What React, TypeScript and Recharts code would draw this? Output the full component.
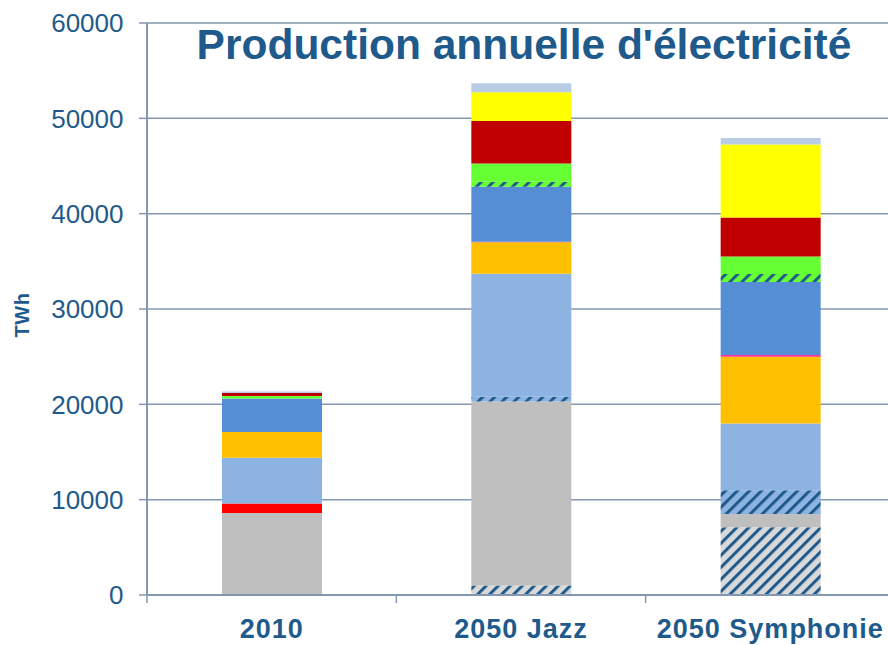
import React from "react";
import { BarChart, Bar, XAxis, YAxis, CartesianGrid } from "recharts";

// valeurs (TWh) pour [2010, 2050 Jazz, 2050 Symphonie]
const scenarios = ["2010", "2050 Jazz", "2050 Symphonie"];
const yTicks = [0, 10000, 20000, 30000, 40000, 50000, 60000];

const charbonCSC = [0, 1000, 7100];
const charbon = [8600, 19300, 1400];
const petrole = [1000, 0, 0];
const gazCSC = [0, 500, 2500];
const gaz = [4800, 12900, 7000];
const nucleaire = [2700, 3300, 7000];
const geothermie = [0, 60, 170];
const hydraulique = [3500, 5770, 7650];
const biomasseCSC = [0, 520, 840];
const biomasse = [280, 1900, 1850];
const eolien = [300, 4480, 4090];
const solaire = [0, 3000, 7650];
const autres = [170, 940, 700];

const series = [
  { key: "charbonCSC", name: "Charbon CSC", values: charbonCSC, fill: "url(#hatchGris)" },
  { key: "charbon", name: "Charbon", values: charbon, fill: "#BFBFBF" },
  { key: "petrole", name: "Pétrole", values: petrole, fill: "#FF0000" },
  { key: "gazCSC", name: "Gaz CSC", values: gazCSC, fill: "url(#hatchBleu)" },
  { key: "gaz", name: "Gaz", values: gaz, fill: "#8DB3E2" },
  { key: "nucleaire", name: "Nucléaire", values: nucleaire, fill: "#FFC000" },
  { key: "geothermie", name: "Géothermie", values: geothermie, fill: "#FF3399" },
  { key: "hydraulique", name: "Hydraulique", values: hydraulique, fill: "#558ED5" },
  { key: "biomasseCSC", name: "Biomasse CSC", values: biomasseCSC, fill: "url(#hatchVert)" },
  { key: "biomasse", name: "Biomasse", values: biomasse, fill: "#66FF33" },
  { key: "eolien", name: "Éolien", values: eolien, fill: "#C00000" },
  { key: "solaire", name: "Solaire", values: solaire, fill: "#FFFF00" },
  { key: "autres", name: "Autres", values: autres, fill: "#B9CDE5" },
];

const data = scenarios.map((name, i) => {
  const row: Record<string, string | number> = { name };
  for (const s of series) row[s.key] = s.values[i];
  return row;
});

const BLUE_TEXT = "#1F5A8C";
const AXIS = "#8497B0";
const FONT = "'Liberation Sans', Arial, sans-serif";
const TICK_GAP = 23.5; // tickSize + tickMargin of the category axis

function Hatch({ id, base }: { id: string; base: string }) {
  return (
    <pattern id={id} patternUnits="userSpaceOnUse" width={8.5} height={8.5} patternTransform="rotate(45)">
      <rect width={8.5} height={8.5} fill={base} />
      <line x1={1.5} y1={0} x2={1.5} y2={8.5} stroke={BLUE_TEXT} strokeWidth={3} />
    </pattern>
  );
}

// label + tick marks between categories (Excel style)
function CategoryTick(props: any) {
  const { x, y, payload, index, visibleTicksCount } = props;
  const half = payload?.offset || 124.7;
  const top = y - TICK_GAP;
  return (
    <g>
      <line x1={x - half} x2={x - half} y1={top} y2={top + 8} stroke={AXIS} strokeWidth={1.5} />
      {index === visibleTicksCount - 1 && (
        <line x1={x + half} x2={x + half} y1={top} y2={top + 8} stroke={AXIS} strokeWidth={1.5} />
      )}
      <text x={x} y={y} dy="0.71em" textAnchor="middle" fill={BLUE_TEXT} fontWeight={700}
        style={{ fontSize: 27, fontFamily: FONT, letterSpacing: 1 }}>
        {payload.value}
      </text>
    </g>
  );
}

export default function App() {
  return (
    <div style={{ position: "absolute", left: 0, top: 0, width: 888, height: 645, overflow: "hidden", background: "#fff" }}>
      <BarChart width={895} height={645} data={data} margin={{ top: 23, right: 0, bottom: 0, left: 0 }}>
        <defs>
          <Hatch id="hatchGris" base="#D9D9D9" />
          <Hatch id="hatchBleu" base="#8DB3E2" />
          <Hatch id="hatchVert" base="#66FF33" />
        </defs>
        <CartesianGrid vertical={false} stroke={AXIS} strokeWidth={1.5} />
        <XAxis dataKey="name" height={50} tickLine={false} tickSize={8} tickMargin={15.5}
          axisLine={{ stroke: AXIS, strokeWidth: 2 }} tick={<CategoryTick />} />
        <YAxis width={147} domain={[0, 60000]} ticks={yTicks} interval={0} tickSize={8} tickMargin={15.5}
          axisLine={{ stroke: AXIS, strokeWidth: 2 }} tickLine={{ stroke: AXIS, strokeWidth: 1.5 }}
          tick={{ fill: BLUE_TEXT, fontSize: 26, fontFamily: FONT }} />
        {series.map((s) => (
          <Bar key={s.key} dataKey={s.key} name={s.name} stackId="a" fill={s.fill} barSize={100} isAnimationActive={false} />
        ))}
        <text x={524} y={59} textAnchor="middle" fill={BLUE_TEXT} fontWeight={700}
          style={{ fontSize: 42.5, fontFamily: FONT }}>
          Production annuelle d'électricité
        </text>
        <text x={22} y={315} textAnchor="middle" dominantBaseline="central" transform="rotate(-90, 22, 315)"
          fill={BLUE_TEXT} fontWeight={700} style={{ fontSize: 20, fontFamily: FONT, letterSpacing: 0.5 }}>
          TWh
        </text>
      </BarChart>
    </div>
  );
}
